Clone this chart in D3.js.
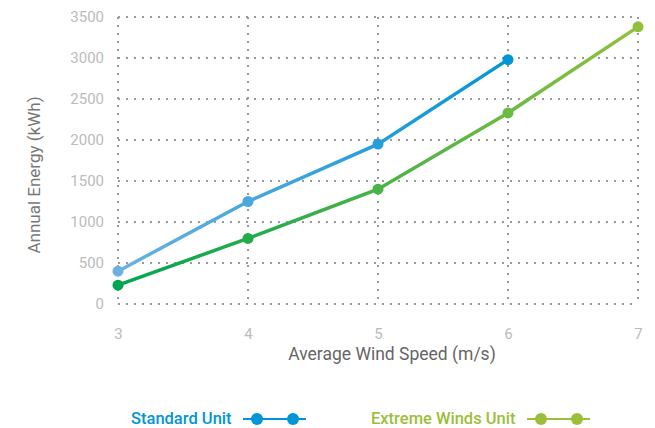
<!DOCTYPE html>
<html>
<head>
<meta charset="utf-8">
<script src="https://cdn.jsdelivr.net/npm/d3@7"></script>
<style>
  body { margin: 0; background: #fff; }
  svg { display: block; font-family: Roboto, "DejaVu Sans", sans-serif; }
</style>
</head>
<body>
<script>
// data
const windSpeeds = [3, 4, 5, 6, 7];
const standardUnit = [400, 1250, 1950, 2980];
const extremeUnit = [230, 800, 1400, 2330, 3380];
const yTicks = [0, 500, 1000, 1500, 2000, 2500, 3000, 3500];

const width = 655, height = 428;

const svg = d3.select("body").append("svg")
    .attr("width", width)
    .attr("height", height);

const x = d3.scaleLinear().domain([3, 7]).range([118, 638]);
const y = d3.scaleLinear().domain([0, 3500]).range([304, 17]);

// grid
const grid = svg.append("g").attr("stroke", "#999").attr("stroke-width", 2)
    .attr("stroke-dasharray", "2 6").attr("fill", "none");

grid.selectAll(".h").data(yTicks).enter().append("line")
    .attr("x1", x(3)).attr("x2", x(7))
    .attr("y1", d => y(d)).attr("y2", d => y(d));

grid.selectAll(".v").data(windSpeeds).enter().append("line")
    .attr("x1", d => x(d)).attr("x2", d => x(d))
    .attr("y1", y(3500)).attr("y2", y(0));

// axes (labels only)
const yAxis = svg.append("g")
    .attr("transform", `translate(${x(3)},0)`)
    .call(d3.axisLeft(y).tickValues(yTicks).tickSize(0).tickPadding(14).tickFormat(d3.format("d")));
const xAxis = svg.append("g")
    .attr("transform", `translate(0,${y(0)})`)
    .call(d3.axisBottom(x).tickValues(windSpeeds).tickSize(0).tickPadding(24).tickFormat(d3.format("d")));

[yAxis, xAxis].forEach(a => {
    a.select(".domain").remove();
    a.selectAll("text").attr("fill", "#bbb").style("font-size", "15px")
        .style("font-family", "Roboto, sans-serif");
});

svg.append("text")
    .attr("transform", "translate(40,175) rotate(-90)")
    .attr("text-anchor", "middle")
    .attr("fill", "#777")
    .style("font-size", "17px")
    .text("Annual Energy (kWh)");

svg.append("text")
    .attr("x", 392).attr("y", 360)
    .attr("text-anchor", "middle")
    .attr("fill", "#666")
    .style("font-size", "17.5px")
    .text("Average Wind Speed (m/s)");

// gradients
const defs = svg.append("defs");
const series = [
    { id: "std", values: standardUnit, from: "#6cb0e2", to: "#0096d6" },
    { id: "ext", values: extremeUnit, from: "#00a54f", to: "#8fc13d" }
];

series.forEach(s => {
    const pts = s.values.map((v, i) => [windSpeeds[i], v]);
    const x0 = x(pts[0][0]), x1 = x(pts[pts.length - 1][0]);
    const g = defs.append("linearGradient").attr("id", "grad-" + s.id)
        .attr("gradientUnits", "userSpaceOnUse")
        .attr("x1", x0).attr("x2", x1).attr("y1", 0).attr("y2", 0);
    g.append("stop").attr("offset", "0%").attr("stop-color", s.from);
    g.append("stop").attr("offset", "100%").attr("stop-color", s.to);
    const col = d3.scaleLinear().domain([x0, x1]).range([s.from, s.to]);

    svg.append("path")
        .datum(pts)
        .attr("fill", "none")
        .attr("stroke", `url(#grad-${s.id})`)
        .attr("stroke-width", 3.5)
        .attr("d", d3.line().x(d => x(d[0])).y(d => y(d[1])));

    svg.selectAll(".pt-" + s.id).data(pts).enter().append("circle")
        .attr("cx", d => x(d[0])).attr("cy", d => y(d[1]))
        .attr("r", 5.5)
        .attr("fill", d => col(x(d[0])));
});

// legend
const legend = [
    { label: "Standard Unit", color: "#0096d6", tx: 131, lx: 243 },
    { label: "Extreme Winds Unit", color: "#9bbf3a", tx: 371, lx: 527 }
];
legend.forEach(l => {
    const g = svg.append("g");
    g.append("text").attr("x", l.tx).attr("y", 424)
        .attr("fill", l.color).style("font-size", "16.5px").style("font-weight", "500")
        .text(l.label);
    g.append("line").attr("x1", l.lx).attr("x2", l.lx + 63)
        .attr("y1", 419).attr("y2", 419)
        .attr("stroke", l.color).attr("stroke-width", 2);
    [l.lx + 14, l.lx + 50].forEach(cx => g.append("circle")
        .attr("cx", cx).attr("cy", 419).attr("r", 6).attr("fill", l.color));
});
</script>
</body>
</html>
